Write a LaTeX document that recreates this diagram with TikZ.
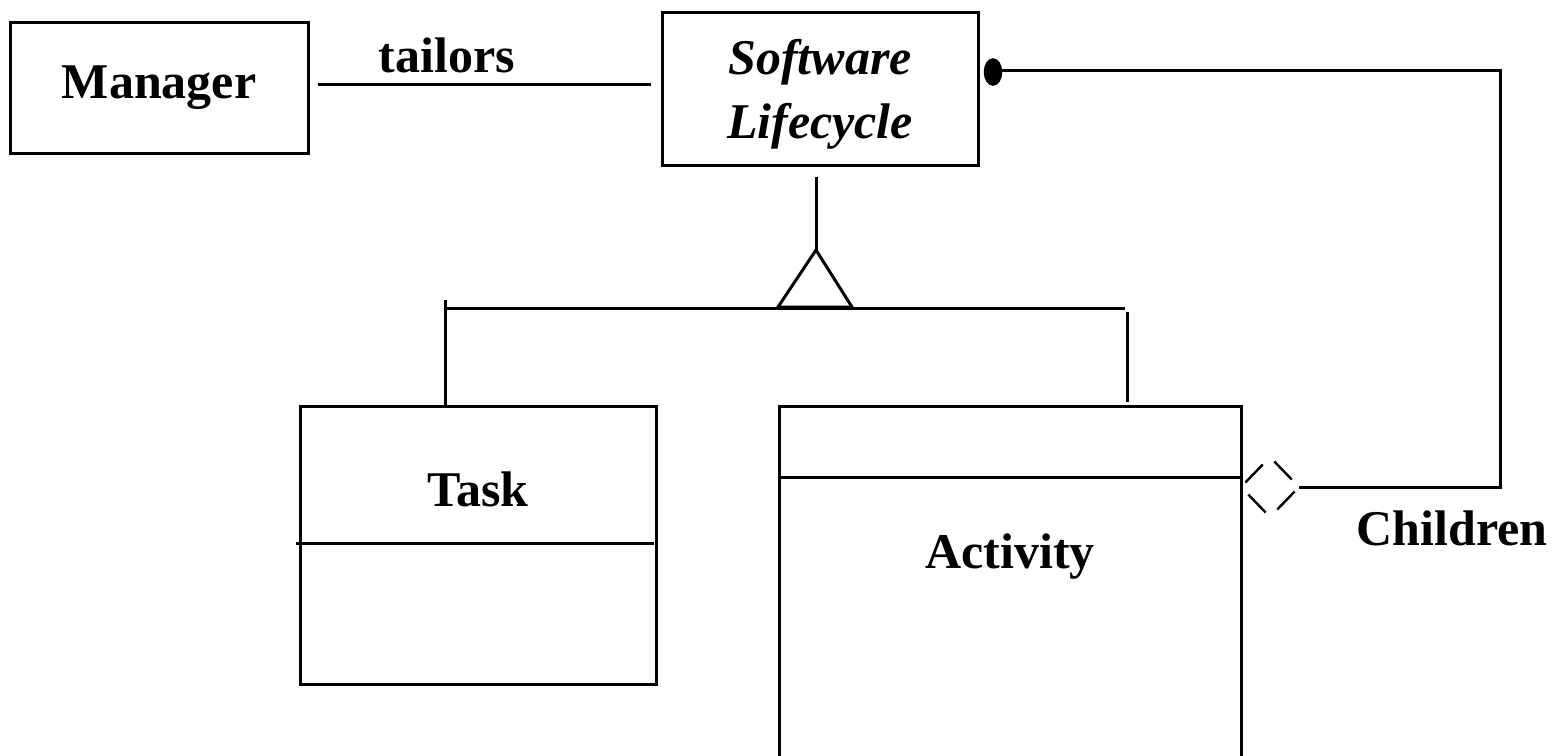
\documentclass[tikz,border=0pt]{standalone}
\usepackage{fontspec}
\setmainfont{Liberation Serif}
\usetikzlibrary{calc,shapes.geometric}

\tikzset{every picture/.style={line width=1.5pt}}
\tikzset{
  classbox/.style={draw, rectangle, inner sep=0pt},
  umltext/.style={inner sep=0.75pt, font=\fontsize{25}{31}\selectfont\bfseries}
}

\begin{document}
\begin{tikzpicture}[x=0.5pt,y=0.5pt,yscale=-1,xscale=1]
\useasboundingbox (0,0) rectangle (1562,755);
\clip (0,0) rectangle (1562,755);

%Class boxes
\node [classbox, umltext, minimum width=149pt, minimum height=65.5pt] (manager) at (159,87.5) {Manager};
\node [classbox, minimum width=158pt, minimum height=76.5pt] (lifecycle) at (820,88.5) {};
\node [classbox, minimum width=178pt, minimum height=139pt] (task) at (478,545) {};
\node [classbox, minimum width=231pt, minimum height=194pt] (activity) at (1010,600) {};

%Compartment lines
\draw ([xshift=-1.5pt,yshift=-1pt]task.west) -- ([xshift=-2pt,yshift=-1pt]task.east);
\draw ([xshift=1pt,yshift=36.5pt]activity.north west) -- ([xshift=-1.5pt,yshift=36.5pt]activity.north east);

%Association tailors
\draw ([xshift=4pt,yshift=-1.75pt]manager.east) -- ([xshift=-5pt,yshift=-2.25pt]lifecycle.west);

%Generalization
\coordinate (apex) at (816,250);
\coordinate (triL) at (778,307);
\coordinate (triR) at (852,307);
\coordinate (barL) at (447,308);
\coordinate (barR) at (1125,308);
\coordinate (taskup) at (445,300);
\coordinate (actup) at (1127,312);
\draw ([yshift=5pt]lifecycle.south -| apex) -- (apex);
\draw [line join=miter] (apex) -- (triL) -- (triR) -- cycle;
\draw (barL) -- (barR);
\draw (taskup) -- (taskup |- task.north);
\draw (actup) -- ([yshift=-1.5pt]actup |- activity.north);

%Aggregation Children
\node [draw, fill, ellipse, line width=0.75pt, inner sep=0pt, minimum width=8.5pt, minimum height=13pt] (dot) at (993,72) {};
\coordinate (dl) at (1241,487);
\coordinate (dt) at (1270,457);
\coordinate (dr) at (1299,487);
\coordinate (db) at (1270,517);
\coordinate (turn) at (1500,487);
\foreach \a/\b in {dl/dt,dt/dr,dr/db,db/dl}
  \draw [line width=1.2pt] ($(\a)!0.15!(\b)$) -- ($(\a)!0.75!(\b)$);
\draw ([yshift=-1pt]dot.east) -| (turn) -- (dr);

% Text Node
\node [umltext, align=center, font=\fontsize{25}{32}\selectfont\bfseries\itshape] (lifecyclename) at (820,94) {Software\\Lifecycle};
% Text Node
\node [umltext] (tailors) at (447,55) {tailors};
% Text Node
\node [umltext] (taskname) at (478,489) {Task};
% Text Node
\node [umltext] (activityname) at (1010,557) {Activity};
% Text Node
\node [umltext] (children) at (1452,528) {Children};

\end{tikzpicture}
\end{document}
